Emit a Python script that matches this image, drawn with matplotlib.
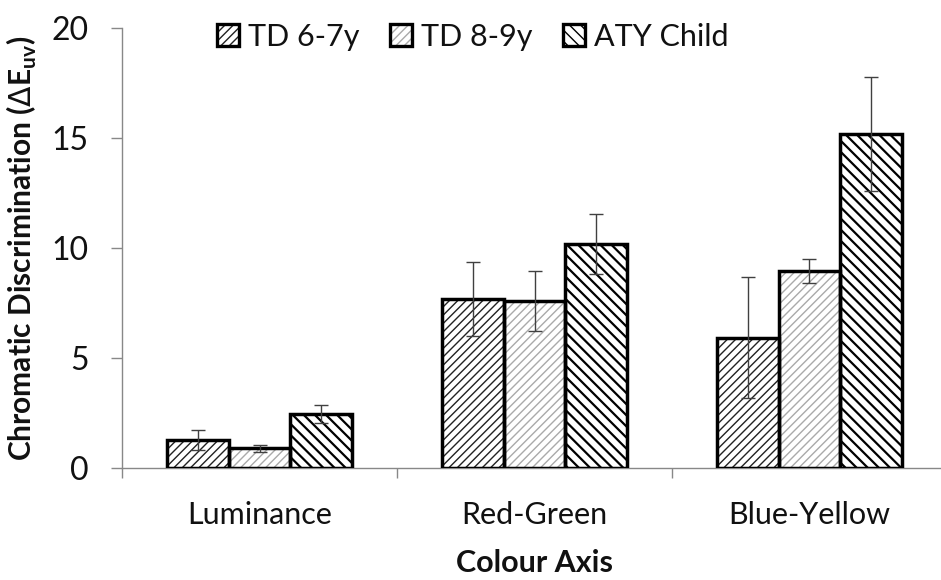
import matplotlib
matplotlib.use("Agg")
import matplotlib.pyplot as plt
import numpy as np
from matplotlib.patches import Patch
from matplotlib.legend_handler import HandlerTuple

plt.rcParams['font.family'] = ['Lato', 'DejaVu Sans']

categories = ["Luminance", "Red-Green", "Blue-Yellow"]
groups = ["TD 6-7y", "TD 8-9y", "ATY Child"]
td67 = [1.27, 7.68, 5.92]
td67_err = [0.45, 1.7, 2.75]
td89 = [0.9, 7.6, 8.95]
td89_err = [0.15, 1.35, 0.53]
aty = [2.45, 10.18, 15.18]
aty_err = [0.4, 1.38, 2.6]
yticks = [0, 5, 10, 15, 20]

values = [td67, td89, aty]
errors = [td67_err, td89_err, aty_err]
hatches = ['////', '////', '\\\\\\']
hatch_colors = ['#222222', '#aaaaaa', '#000000']
hatch_lw = [1.0, 1.0, 1.6]

fig = plt.figure(figsize=(9.41, 5.8), dpi=100)
ax = fig.add_axes([122 / 941, 112 / 580, 825 / 941, 440 / 580])

x = np.arange(len(categories))
w = 0.224
offsets = [-w, 0, w]

handles = []
for vals, errs, h, hc, hlw, off in zip(values, errors, hatches, hatch_colors, hatch_lw, offsets):
    with plt.rc_context({'hatch.linewidth': hlw}):
        hb = ax.bar(x + off, vals, w, color='white', edgecolor=hc, hatch=h,
                    linewidth=0, zorder=2)
        for p in hb:
            if hasattr(p, 'set_hatch_linewidth'):
                p.set_hatch_linewidth(hlw)
    ax.bar(x + off, vals, w, facecolor='none', edgecolor='black',
           linewidth=2.5, zorder=3)
    ax.errorbar(x + off, vals, yerr=errs, fmt='none', ecolor='#404040',
                elinewidth=1.0, capsize=5, capthick=1.0, zorder=4)
    with plt.rc_context({'hatch.linewidth': hlw}):
        hp = Patch(facecolor='white', edgecolor=hc, hatch=h, linewidth=0)
        if hasattr(hp, 'set_hatch_linewidth'):
            hp.set_hatch_linewidth(hlw)
    ep = Patch(facecolor='none', edgecolor='black', linewidth=2.4)
    handles.append((hp, ep))

ax.set_ylim(0, 20)
ax.set_xlim(-0.5, 2.5)
ax.set_yticks(yticks)
ax.set_yticklabels([str(t) for t in yticks], fontsize=23, color='#111111')

ax.set_xticks([-0.5, 0.5, 1.5, 2.5])
ax.set_xticklabels([])
ax.set_xticks(x, minor=True)
ax.set_xticklabels(categories, minor=True, fontsize=22, color='#111111')
ax.tick_params(axis='x', which='minor', length=0, pad=24)
ax.tick_params(axis='x', which='major', length=7, color='#888888', width=1)
ax.tick_params(axis='y', length=8, color='#888888', width=1, pad=16)

for s in ['top', 'right']:
    ax.spines[s].set_visible(False)
for s in ['left', 'bottom']:
    ax.spines[s].set_color('#888888')
    ax.spines[s].set_linewidth(1)

ax.set_ylabel(r'Chromatic Discrimination ($\Delta$E$_{\mathregular{uv}}$)',
              fontsize=21.5, fontweight='bold', labelpad=9, color='#111111')
ax.set_xlabel('Colour Axis', fontsize=22, fontweight='bold', labelpad=14, color='#111111')

leg = ax.legend(handles, groups, handler_map={tuple: HandlerTuple(ndivide=1, pad=0)},
                loc='upper center', bbox_to_anchor=(0.425, 1.075), ncol=3, frameon=False,
                fontsize=22, handlelength=0.72, handleheight=0.72, handletextpad=0.3,
                columnspacing=1.0, labelcolor='#111111')

fig.savefig('out.png', dpi=100)
